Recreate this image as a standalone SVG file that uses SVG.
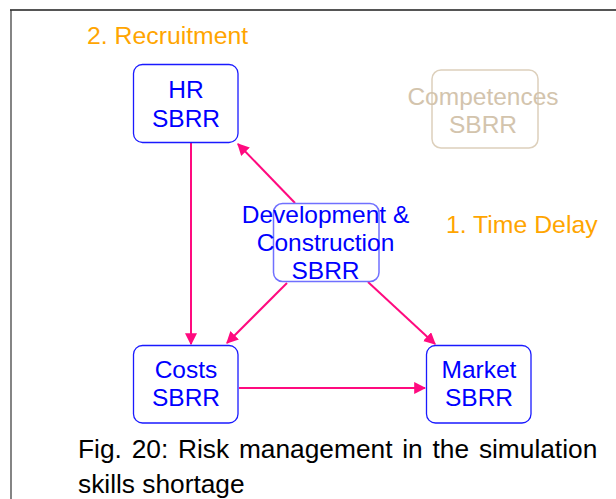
<svg xmlns="http://www.w3.org/2000/svg" width="616" height="499" viewBox="0 0 616 499">
  <style>
    .box { fill: #ffffff; stroke: #1a1aff; stroke-width: 1.3; }
    .box-soft { fill: none; stroke: #7070ff; stroke-width: 1.5; }
    .box-faded { fill: none; stroke: #ddd0bc; stroke-width: 1.5; }
    .lbl { font-family: "Liberation Sans", Arial, sans-serif; font-size: 24.5px; fill: #0000ff; text-anchor: middle; }
    .lbl-faded { font-family: "Liberation Sans", Arial, sans-serif; font-size: 24.5px; fill: #d3c4ad; text-anchor: middle; }
    .note { font-family: "Liberation Sans", Arial, sans-serif; font-size: 24.8px; fill: #ffa500; }
    .caption { font-family: "Liberation Sans", Arial, sans-serif; font-size: 26.3px; fill: #000000; }
    .link { stroke: #ff0a7f; stroke-width: 2; fill: none; marker-end: url(#head); }
  </style>
  <defs>
    <marker id="head" viewBox="0 0 10 10" refX="9" refY="5" markerWidth="6" markerHeight="6" orient="auto" markerUnits="strokeWidth">
      <path d="M0,0 L10,5 L0,10 Z" fill="#ff0a7f"/>
    </marker>
  </defs>

  <rect width="616" height="499" fill="#ffffff"/>

  <!-- page frame -->
  <line x1="10" y1="10" x2="616" y2="10" stroke="#555555" stroke-width="2"/>
  <line x1="11" y1="10" x2="11" y2="499" stroke="#333333" stroke-width="1.2"/>

  <!-- annotations -->
  <text class="note" x="87" y="44">2. Recruitment</text>
  <text class="note" x="446" y="233">1. Time Delay</text>

  <!-- connectors -->
  <g id="connectors">
    <line class="link" x1="191" y1="143" x2="191" y2="344"/>
    <line class="link" x1="295" y1="203" x2="238" y2="144"/>
    <line class="link" x1="287" y1="283" x2="227" y2="343"/>
    <line class="link" x1="368" y1="282" x2="435" y2="344"/>
    <line class="link" x1="239" y1="388" x2="425" y2="388"/>
  </g>

  <g id="hr">
    <rect class="box" x="133.5" y="64.5" width="104.5" height="78" rx="9"/>
    <text class="lbl" x="186" y="98">HR</text>
    <text class="lbl" x="186" y="127">SBRR</text>
  </g>

  <g id="competences">
    <rect class="box-faded" x="432" y="70" width="106" height="78" rx="9"/>
    <text class="lbl-faded" x="483" y="105">Competences</text>
    <text class="lbl-faded" x="483" y="133">SBRR</text>
  </g>

  <g id="development">
    <rect class="box-soft" x="273.5" y="203.5" width="105.5" height="78" rx="9"/>
    <text class="lbl" x="325.5" y="223">Development &amp;</text>
    <text class="lbl" x="325.5" y="251">Construction</text>
    <text class="lbl" x="325.5" y="279">SBRR</text>
  </g>

  <g id="costs">
    <rect class="box" x="133.5" y="345.5" width="104.5" height="77.5" rx="9"/>
    <text class="lbl" x="186" y="378">Costs</text>
    <text class="lbl" x="186" y="406">SBRR</text>
  </g>

  <g id="market">
    <rect class="box" x="426.5" y="345.5" width="104.5" height="77.5" rx="9"/>
    <text class="lbl" x="479" y="378">Market</text>
    <text class="lbl" x="479" y="406">SBRR</text>
  </g>

  <!-- caption, first line justified with wider word gaps -->
  <text class="caption" x="78" y="458" word-spacing="2.5">Fig. 20: Risk management in the simulation</text>
  <text class="caption" x="78" y="493">skills shortage</text>
</svg>
